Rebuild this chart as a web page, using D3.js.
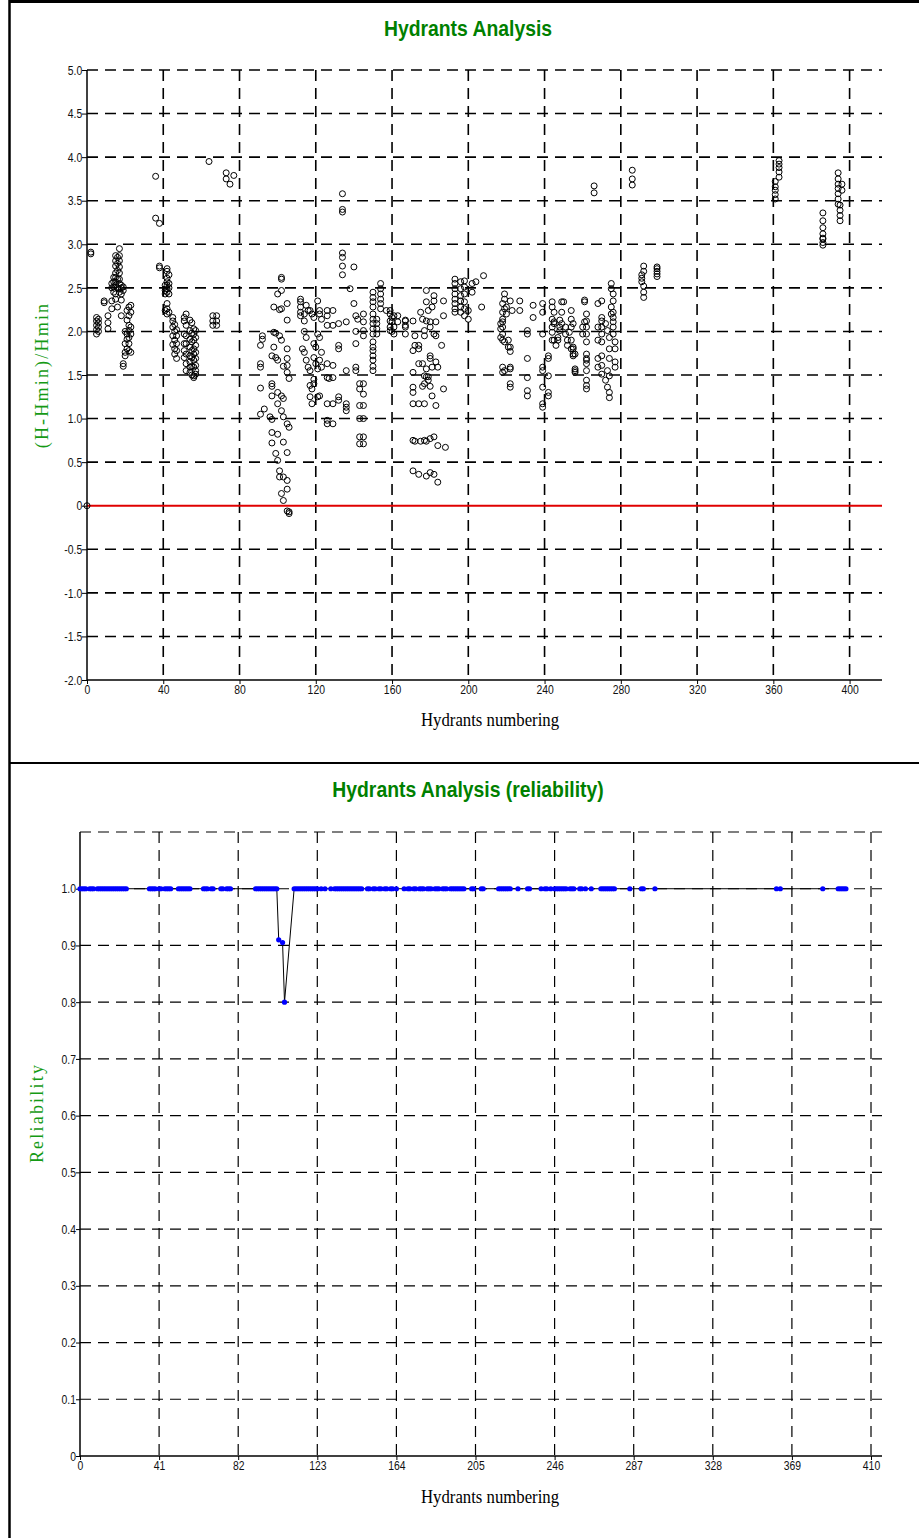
<!DOCTYPE html>
<html><head><meta charset="utf-8">
<script src="https://cdn.jsdelivr.net/npm/d3@7"></script>
<style>
body{margin:0;background:#fff;}
svg{display:block;}
</style></head><body>
<svg id="c" width="919" height="1538"></svg>
<script>
// ---------- DATA ----------
// Top chart: hydrant id -> list of (H-Hmin)/Hmin values
const headColumns = [
 [0,[0]],[2,[2.89,2.91]],
 [5,[1.97,2.02,2.07,2.12,2.16]],[6,[2.0,2.05,2.1,2.14]],[9,[2.33,2.35]],[11,[2.03,2.1,2.18]],
 [13,[2.26,2.35,2.5,2.55]],[14,[2.45,2.51,2.57,2.62]],
 [15,[2.37,2.43,2.53,2.57,2.62,2.67,2.75,2.81,2.87]],[16,[2.28,2.5,2.6,2.7,2.78,2.85]],
 [17,[2.45,2.49,2.55,2.6,2.67,2.74,2.81,2.87,2.95]],[18,[2.18,2.36,2.43,2.5,2.53]],
 [19,[1.6,1.63,2.47,2.51]],[20,[1.72,1.76,1.86,2.0]],[21,[1.8,1.91,1.97,2.13,2.24]],
 [22,[1.78,1.86,1.93,2.01,2.07,2.18,2.28]],[23,[1.76,1.97,2.05,2.22,2.3]],
 [36,[3.3,3.78]],[38,[2.73,2.75,3.24]],
 [41,[2.24,2.43,2.47,2.53]],[42,[2.2,2.26,2.32,2.45,2.49,2.53,2.57,2.61,2.69,2.72]],[43,[2.22,2.43,2.5,2.55,2.65]],
 [45,[1.85,1.95,2.05,2.12,2.16]],[46,[1.74,1.8,1.9,2.0,2.08]],[47,[1.69,1.78,1.86,1.95,2.02]],
 [51,[1.7,1.78,1.86,1.97,2.12,2.16]],[52,[1.55,1.63,1.74,1.86,1.95,2.07,2.2]],
 [54,[1.53,1.59,1.65,1.72,1.82,1.91,2.01,2.13]],[55,[1.5,1.6,1.7,1.78,1.88,1.98,2.1]],
 [56,[1.47,1.49,1.59,1.67,1.74,1.8,1.9,1.97,2.03]],[57,[1.51,1.55,1.61,1.69,1.76,1.84,1.93,2.01]],
 [64,[3.95]],[66,[2.07,2.12,2.18]],[68,[2.07,2.12,2.18]],[73,[3.75,3.82]],[75,[3.69]],[77,[3.79]],
 [91,[1.05,1.35,1.59,1.63,1.84]],[92,[1.91,1.95]],[93,[1.11]],[96,[1.02]],
 [97,[0.72,0.84,0.99,1.26,1.37,1.40,1.72]],[98,[1.82,2.28,1.99]],[99,[0.60,1.70,1.98]],
 [100,[0.52,0.82,1.17,1.30,1.67,2.43]],[101,[0.33,0.40,1.95,2.25]],
 [102,[0.14,1.09,1.26,1.9,2.26,2.47,2.60,2.62]],[103,[0.06,0.33,0.73,1.02,1.23,1.60]],
 [105,[-0.06,0.19,0.29,0.61,0.94,1.53,1.61,1.69,1.80,2.13,2.32]],[106,[-0.09,-0.07,0.90,1.46]],
 [112,[2.18,2.22,2.28,2.34,2.37]],[113,[1.80]],[114,[1.76,2.0,2.12,2.2]],[115,[1.67,1.93,2.30]],
 [116,[1.59,2.24]],[117,[1.25,1.38,1.55,2.24]],[118,[1.17,1.34,2.20]],[119,[1.40,1.45,1.70,1.86,2.16]],
 [120,[1.63,1.82]],[121,[1.25,1.57,1.97,2.35]],[122,[1.26,1.67,1.93,2.20,2.24]],[123,[1.59,1.76,2.14]],
 [126,[0.94,0.98,1.17,1.47,1.63,2.07,2.18,2.24]],[127,[1.46]],[129,[0.94,1.17,1.47,1.61,2.07,2.24]],
 [132,[1.21,1.25,1.80,1.84,2.09]],[134,[2.65,2.75,2.85,2.9,3.37,3.40,3.58]],
 [136,[1.09,1.13,1.17,1.55,2.11]],[138,[2.49]],[140,[2.32,2.74]],[141,[1.55,1.59,1.86,2.0,2.18]],[142,[2.14]],
 [143,[0.71,0.79,1.0,1.15,1.34,1.40]],[145,[0.71,0.79,1.0,1.15,1.28,1.40,1.95,2.01,2.11,2.20]],
 [150,[1.55,1.6,1.67,1.72,1.78,1.82,1.88,1.97,2.03,2.09,2.14,2.20,2.28,2.34,2.39,2.45]],
 [152,[1.97,2.03,2.09,2.14]],[154,[2.26,2.32,2.37,2.43,2.49,2.55]],[157,[2.24]],
 [159,[2.01,2.05,2.12,2.20,2.24]],[160,[2.0,2.11,2.16]],[161,[1.97,2.05,2.18]],[163,[2.11,2.18]],
 [167,[1.97,2.05,2.07,2.12,2.13]],
 [171,[0.40,0.75,1.17,1.30,1.36,1.53,1.78,2.12]],[172,[0.74,1.84,1.95]],[174,[0.36,1.17,1.63,1.80,1.84]],
 [175,[0.74,2.22]],[176,[1.37,1.63,2.14]],[177,[0.75,1.17,1.40,1.49,1.95,2.01]],
 [178,[0.34,0.74,1.48,1.57,2.12,2.34,2.47]],[179,[1.44,1.48,2.24]],[180,[0.38,0.77,1.37,1.69,1.72,2.05,2.11]],
 [181,[1.26,1.59,2.28]],[182,[0.36,0.79,1.97,2.35,2.41]],[183,[1.15,1.65,1.95,2.11]],[184,[0.27,0.69,1.59]],
 [186,[1.84]],[187,[1.34,2.18,2.35]],[188,[0.67]],
 [193,[2.22,2.26,2.32,2.37,2.43,2.49,2.55,2.60]],[196,[2.22,2.28,2.35,2.41,2.49,2.57]],
 [198,[2.18,2.26,2.34,2.43,2.51,2.58]],[200,[2.14,2.24]],[202,[2.45,2.55]],[204,[2.57]],[207,[2.28]],[208,[2.64]],
 [217,[1.93,2.03,2.09]],[218,[1.53,1.59,1.90,1.97,2.05,2.11,2.14,2.22,2.32]],[219,[1.55,1.88,2.26,2.37,2.43]],
 [220,[2.20,2.28]],[221,[1.82,1.90]],[222,[1.36,1.40,1.57,1.59,1.77,1.82,2.35]],[223,[2.24]],
 [227,[2.24,2.35]],[231,[1.26,1.32,1.47,1.69,1.97,2.01]],[234,[2.16,2.30]],
 [239,[1.13,1.17,1.36,1.55,1.59,1.97,2.22,2.32]],[242,[1.26,1.30,1.49,1.69,1.72]],
 [244,[1.90,1.99,2.05,2.14,2.28,2.34]],[245,[1.90,2.09,2.11,2.22]],[246,[1.84]],[247,[1.90,1.93]],
 [248,[2.01,2.05,2.13]],[249,[2.09,2.22,2.34]],[250,[2.34]],[251,[1.97,2.05]],[252,[1.84,1.90]],
 [253,[1.99]],[254,[1.80,1.90,2.05,2.14,2.24]],[255,[1.72,1.74,1.80,1.82,2.09]],[256,[1.53,1.55,1.57,1.74]],
 [260,[2.05,1.97]],[261,[2.11,2.34,2.36]],
 [262,[1.34,1.38,1.44,1.55,1.63,1.67,1.69,1.74,1.88,1.97,2.05,2.12,2.20]],
 [268,[1.59,1.69,1.90,2.05,2.32]],[270,[1.51,1.61,1.72,1.88,1.97,2.05,2.12,2.16,2.35]],[272,[1.44,2.09]],
 [273,[1.36,1.55,2.01]],[274,[1.24,1.30,1.49,1.69,1.80,1.93]],[275,[2.20,2.28,2.49,2.55]],
 [276,[1.97,2.05,2.11,2.16,2.22,2.35,2.43]],[277,[1.59,1.65,1.80,1.88]],
 [266,[3.59,3.67]],[286,[3.68,3.75,3.85]],
 [291,[2.57,2.61,2.65]],[292,[2.39,2.45,2.52,2.69,2.75]],[299,[2.63,2.66,2.69,2.72,2.74]],
 [361,[3.52,3.57,3.62,3.66,3.72]],[363,[3.77,3.83,3.88,3.92,3.96]],
 [386,[2.99,3.02,3.06,3.07,3.12,3.19,3.27,3.36]],
 [394,[3.46,3.52,3.58,3.64,3.69,3.75,3.82]],[395,[3.27,3.33,3.39,3.45]],[396,[3.62,3.69]]
];
const topXTicks = [0,40,80,120,160,200,240,280,320,360,400];
const topYTicks = [-2,-1.5,-1,-0.5,0,0.5,1,1.5,2,2.5,3,3.5,4,4.5,5];

// Bottom chart: reliability per hydrant id
const reliabilityIds = [0,1,2,3,5,6,7,9,10,11,12,13,14,15,16,17,18,19,20,21,22,23,24,
 36,37,38,39,41,42,44,45,46,47,51,52,53,54,55,56,57,64,65,66,68,69,73,74,76,77,78,
 91,92,93,94,95,96,97,98,99,100,101,102,103,105,106,
 111,112,113,114,115,116,117,118,119,120,121,122,123,125,127,130,
 132,133,134,135,136,137,138,139,140,141,142,143,144,145,146,
 149,150,152,153,155,156,158,159,161,162,164,168,
 170,171,173,174,176,177,178,180,181,182,184,185,186,188,189,190,
 192,193,194,195,196,197,198,199,203,204,208,209,
 217,218,219,220,221,222,223,227,232,233,239,241,242,244,
 246,247,248,249,250,251,252,254,255,256,259,260,262,265,
 270,271,272,273,274,275,276,277,285,291,292,298,361,363,385,393,394,395,396,397];
const reliabilityLow = {103:0.91,105:0.905,106:0.80}; // all other hydrants read 1.0
const bottomXTicks = [0,41,82,123,164,205,246,287,328,369,410];
const bottomYTicks = [0,0.1,0.2,0.3,0.4,0.5,0.6,0.7,0.8,0.9,1.0];
const bottomGridY = [0.1,0.2,0.3,0.4,0.5,0.6,0.7,0.8,0.9,1.0,1.1];

// ---------- DRAW ----------
const svg = d3.select('#c');
const GREEN = '#008000';
const AXGREEN = '#159a15';
const TICKFONT = "'Liberation Sans',Arial,sans-serif";
const SERIF = "'Liberation Serif','Times New Roman',serif";
const fmt1 = d => d===0 ? '0' : d.toFixed(1);

// frame
svg.append('line').attr('x1',9).attr('x2',919).attr('y1',1.5).attr('y2',1.5).attr('stroke','#000').attr('stroke-width',3);
svg.append('line').attr('x1',9.5).attr('x2',9.5).attr('y1',0).attr('y2',1538).attr('stroke','#000').attr('stroke-width',2.5);
svg.append('line').attr('x1',9).attr('x2',919).attr('y1',763).attr('y2',763).attr('stroke','#000').attr('stroke-width',2);

function styleAxis(g){
  g.selectAll('text').attr('font-family',TICKFONT).attr('font-size',13).attr('fill','#111')
    .attr('transform','scale(0.8,1)');
  g.selectAll('.tick line').attr('stroke','#000').attr('stroke-width',1);
  g.select('.domain').remove();
}

// ===== TOP CHART =====
const x1 = d3.scaleLinear().domain([0,417]).range([87,882]);
const y1 = d3.scaleLinear().domain([-2,5]).range([680,70]);
const topG = svg.append('g');

topG.append('text').attr('transform','translate(468,36) scale(0.88,1)').attr('text-anchor','middle')
  .attr('font-family',"'Liberation Sans',Arial,sans-serif").attr('font-weight','bold')
  .attr('font-size',22).attr('fill',GREEN).text('Hydrants Analysis');

// grid
topG.append('g').selectAll('line').data(topYTicks.filter(v=>v>-2 && v!==0)).join('line')
  .attr('x1',x1(0)).attr('x2',882).attr('y1',d=>y1(d)).attr('y2',d=>y1(d))
  .attr('stroke','#000').attr('stroke-width',1.6).attr('stroke-dasharray','11,7');
topG.append('g').selectAll('line').data(topXTicks.filter(v=>v>0)).join('line')
  .attr('x1',d=>x1(d)).attr('x2',d=>x1(d)).attr('y1',y1(5)).attr('y2',y1(-2))
  .attr('stroke','#000').attr('stroke-width',1.6).attr('stroke-dasharray','11,7');
// zero line
topG.append('line').attr('x1',x1(0)).attr('x2',882).attr('y1',y1(0)).attr('y2',y1(0))
  .attr('stroke','#e00000').attr('stroke-width',2);

// axes
topG.append('g').attr('transform',`translate(${x1(0)},0)`)
  .call(d3.axisLeft(y1).tickValues(topYTicks).tickSize(5).tickPadding(1).tickFormat(fmt1)).call(styleAxis);
topG.append('g').attr('transform',`translate(0,${y1(-2)})`)
  .call(d3.axisBottom(x1).tickValues(topXTicks).tickSize(4).tickPadding(1)
    .tickFormat(d3.format('d'))).call(styleAxis);
topG.append('line').attr('x1',x1(0)).attr('x2',x1(0)).attr('y1',y1(5)).attr('y2',y1(-2)).attr('stroke','#000').attr('stroke-width',1.5);
topG.append('line').attr('x1',x1(0)).attr('x2',882).attr('y1',y1(-2)).attr('y2',y1(-2)).attr('stroke','#000').attr('stroke-width',1.5);

// points
const pts = headColumns.flatMap(([id,vals])=>vals.map(v=>({id,v})));
topG.append('g').selectAll('circle').data(pts).join('circle')
  .attr('cx',d=>x1(d.id)).attr('cy',d=>y1(d.v)).attr('r',3)
  .attr('fill','none').attr('stroke','#000').attr('stroke-width',1);

topG.append('text').attr('transform','translate(490,726) scale(0.93,1)').attr('text-anchor','middle')
  .attr('font-family',SERIF).attr('font-size',18).attr('fill','#000').text('Hydrants numbering');
topG.append('text').attr('transform','translate(48,375) rotate(-90)').attr('text-anchor','middle')
  .attr('font-family',SERIF).attr('font-size',18).attr('letter-spacing',2.2).attr('fill',AXGREEN).text('(H-Hmin)/Hmin');

// ===== BOTTOM CHART =====
const x2 = d3.scaleLinear().domain([0,415.7]).range([80,882]);
const y2 = d3.scaleLinear().domain([0,1.1]).range([1456,832]);
const botG = svg.append('g');

botG.append('text').attr('transform','translate(468,797) scale(0.88,1)').attr('text-anchor','middle')
  .attr('font-family',"'Liberation Sans',Arial,sans-serif").attr('font-weight','bold')
  .attr('font-size',22).attr('fill',GREEN).text('Hydrants Analysis (reliability)');

botG.append('g').selectAll('line').data(bottomGridY).join('line')
  .attr('x1',x2(0)).attr('x2',882).attr('y1',d=>y2(d)).attr('y2',d=>y2(d))
  .attr('stroke','#000').attr('stroke-width',1.2).attr('stroke-dasharray','11,7');
botG.append('g').selectAll('line').data(bottomXTicks.filter(v=>v>0)).join('line')
  .attr('x1',d=>x2(d)).attr('x2',d=>x2(d)).attr('y1',y2(1.1)).attr('y2',y2(0))
  .attr('stroke','#000').attr('stroke-width',1.2).attr('stroke-dasharray','11,7');

botG.append('g').attr('transform',`translate(${x2(0)},0)`)
  .call(d3.axisLeft(y2).tickValues(bottomYTicks).tickSize(4).tickPadding(1).tickFormat(fmt1)).call(styleAxis);
botG.append('g').attr('transform',`translate(0,${y2(0)})`)
  .call(d3.axisBottom(x2).tickValues(bottomXTicks).tickSize(4).tickPadding(1)
    .tickFormat(d3.format('d'))).call(styleAxis);
botG.append('line').attr('x1',x2(0)).attr('x2',x2(0)).attr('y1',y2(1.1)).attr('y2',y2(0)).attr('stroke','#000').attr('stroke-width',1.5);
botG.append('line').attr('x1',x2(0)).attr('x2',882).attr('y1',y2(0)).attr('y2',y2(0)).attr('stroke','#000').attr('stroke-width',1.5);

const rel = reliabilityIds.map(id=>({id, v: reliabilityLow[id] ?? 1.0}));
botG.append('path').datum(rel)
  .attr('d',d3.line().x(d=>x2(d.id)).y(d=>y2(d.v)))
  .attr('fill','none').attr('stroke','#000').attr('stroke-width',1);
botG.append('g').selectAll('circle').data(rel).join('circle')
  .attr('cx',d=>x2(d.id)).attr('cy',d=>y2(d.v)).attr('r',2.6).attr('fill','#0000ff');

botG.append('text').attr('transform','translate(490,1503) scale(0.93,1)').attr('text-anchor','middle')
  .attr('font-family',SERIF).attr('font-size',18).attr('fill','#000').text('Hydrants numbering');
botG.append('text').attr('transform','translate(43,1113) rotate(-90)').attr('text-anchor','middle')
  .attr('font-family',SERIF).attr('font-size',18).attr('letter-spacing',2.2).attr('fill',AXGREEN).text('Reliability');
</script>
</body></html>
